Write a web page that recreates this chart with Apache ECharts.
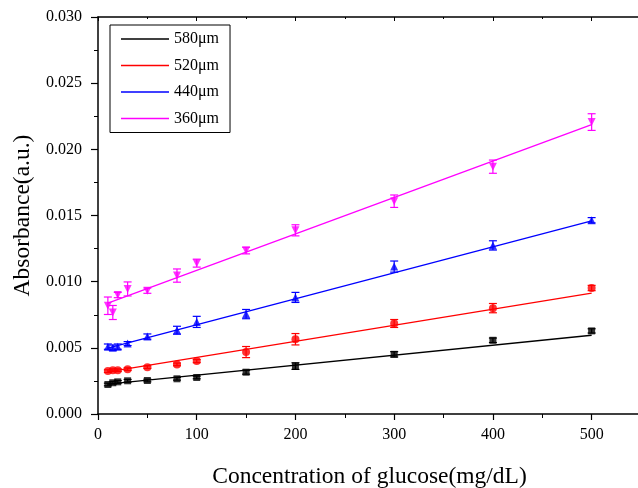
<!DOCTYPE html>
<html><head><meta charset="utf-8">
<script src="https://cdn.jsdelivr.net/npm/echarts@6/dist/echarts.min.js"></script>
<style>html,body{margin:0;padding:0;background:#fff}#c{width:638px;height:488px}</style>
</head><body><div id="c"></div>
<script>
var conc = [10, 15, 20, 30, 50, 80, 100, 150, 200, 300, 400, 500];
var names = ['580\u03bcm', '520\u03bcm', '440\u03bcm', '360\u03bcm'];
var abs580 = [0.00223, 0.00236, 0.00243, 0.00251, 0.00253, 0.00266, 0.00276, 0.00316, 0.00362, 0.00451, 0.00557, 0.00628];
var abs520 = [0.00324, 0.00331, 0.00331, 0.00339, 0.00354, 0.00375, 0.00400, 0.00468, 0.00565, 0.00684, 0.00800, 0.00952];
var abs440 = [0.00509, 0.00501, 0.00509, 0.00532, 0.00585, 0.00633, 0.00696, 0.00755, 0.00881, 0.01114, 0.01274, 0.01464];
var abs360 = [0.00818, 0.00767, 0.00899, 0.00945, 0.00932, 0.01046, 0.01140, 0.01235, 0.01388, 0.01608, 0.01869, 0.02206];
var err580 = [0.0001, 0.0001, 0.0001, 0.0001, 0.0001, 0.0001, 0.0001, 0.00015, 0.00025, 0.0002, 0.00017, 0.00016];
var err520 = [0.0001, 0.0001, 0.0001, 0.0001, 0.0001, 0.0001, 0.00012, 0.00042, 0.00043, 0.0003, 0.00035, 0.0002];
var err440 = [0.0002, 0.0002, 0.0002, 0.00015, 0.0002, 0.0003, 0.00042, 0.00035, 0.00038, 0.00042, 0.00035, 0.0002];
var err360 = [0.00066, 0.00053, 0.0002, 0.00053, 0.0002, 0.0005, 0.0003, 0.00025, 0.00042, 0.00047, 0.0005, 0.00063];
var fitX = [10, 500];
var fit580 = [0.00225, 0.00595];
var fit520 = [0.00318, 0.00914];
var fit440 = [0.00497, 0.01459];
var fit360 = [0.00838, 0.02186];
var xTicks = [0, 100, 200, 300, 400, 500];
var yTicks = [0, 0.005, 0.010, 0.015, 0.020, 0.025, 0.030];

var colors = ['#000000', '#ff0000', '#0000ff', '#ff00ff'];
var symbols = ['rect', 'circle', 'triangle', 'path://M0,0 L10,0 L5,10 Z'];
var vals = [abs580, abs520, abs440, abs360];
var errs = [err580, err520, err440, err360];
var fits = [fit580, fit520, fit440, fit360];
var serif = 'Liberation Serif';

function pairs(xs, ys) { return xs.map(function (x, i) { return [x, ys[i]]; }); }

var series = [];
for (var k = 0; k < 4; k++) {
  (function (k) {
    series.push({
      name: names[k], type: 'line', data: pairs(fitX, fits[k]), showSymbol: false,
      lineStyle: { color: colors[k], width: 1.3 }, itemStyle: { color: colors[k] },
      z: 2, silent: true
    });
    series.push({
      name: names[k] + '_err', type: 'custom',
      data: conc.map(function (x, i) { return [x, vals[k][i] - errs[k][i], vals[k][i] + errs[k][i]]; }),
      renderItem: function (params, api) {
        var x = api.value(0), lo = api.value(1), hi = api.value(2);
        var p1 = api.coord([x, hi]), p2 = api.coord([x, lo]);
        var w = 4, st = { stroke: colors[k], lineWidth: 1.2 };
        return { type: 'group', children: [
          { type: 'line', shape: { x1: p1[0], y1: p1[1], x2: p2[0], y2: p2[1] }, style: st },
          { type: 'line', shape: { x1: p1[0] - w, y1: p1[1], x2: p1[0] + w, y2: p1[1] }, style: st },
          { type: 'line', shape: { x1: p2[0] - w, y1: p2[1], x2: p2[0] + w, y2: p2[1] }, style: st }
        ] };
      },
      encode: { x: 0, y: [1, 2] }, z: 3, silent: true
    });
    series.push({
      name: names[k] + '_pts', type: 'scatter', data: pairs(conc, vals[k]),
      symbol: symbols[k], symbolSize: k === 0 ? 7 : 8,
      itemStyle: { color: colors[k] }, z: 4, silent: true
    });
  })(k);
}

var chart = echarts.init(document.getElementById('c'), null, { renderer: 'canvas' });
chart.setOption({
  animation: false,
  backgroundColor: '#fff',
  grid: { left: 98, right: -3, top: 17, bottom: 74, outerBoundsMode: 'none', containLabel: false },
  legend: {
    data: names, left: 110, top: 25, orient: 'vertical',
    icon: 'rect', itemWidth: 48, itemHeight: 1.5, itemGap: 10.5,
    borderColor: '#000', borderWidth: 1, padding: [6, 11, 6, 11],
    textStyle: { fontFamily: serif, fontSize: 16, color: '#000' }
  },
  xAxis: [{
    type: 'value', min: 0, max: 550, interval: 100,
    name: 'Concentration of glucose(mg/dL)', nameLocation: 'middle', nameGap: 51,
    nameTextStyle: { fontFamily: serif, fontSize: 23.5, color: '#000' },
    axisLine: { lineStyle: { color: '#000', width: 1.5 } },
    axisTick: { inside: false, length: 6, lineStyle: { color: '#000', width: 1.2 } },
    minorTick: { show: true, splitNumber: 2, length: 4, lineStyle: { color: '#000', width: 1 } },
    axisLabel: { fontFamily: serif, fontSize: 16, color: '#000', margin: 13, showMaxLabel: false,
      formatter: function (v) { return xTicks.indexOf(v) >= 0 ? String(v) : ''; } },
    splitLine: { show: false }
  }, {
    type: 'value', position: 'top', min: 0, max: 550, interval: 100,
    axisLine: { onZero: false, lineStyle: { color: '#000', width: 1.5 } },
    axisTick: { inside: true, length: 4, lineStyle: { color: '#000' } },
    minorTick: { show: true, splitNumber: 2, length: 2, lineStyle: { color: '#000' } },
    axisLabel: { show: false }, splitLine: { show: false }
  }],
  yAxis: [{
    type: 'value', min: 0, max: 0.030, interval: 0.005,
    name: 'Absorbance(a.u.)', nameLocation: 'middle', nameGap: 63,
    nameTextStyle: { fontFamily: serif, fontSize: 23.5, color: '#000' },
    axisLine: { show: true, lineStyle: { color: '#000', width: 1.5 } },
    axisTick: { show: true, inside: false, length: 7, lineStyle: { color: '#000', width: 1.2 } },
    minorTick: { show: true, splitNumber: 2, length: 4, lineStyle: { color: '#000', width: 1 } },
    axisLabel: { fontFamily: serif, fontSize: 16, color: '#000', margin: 16,
      formatter: function (v) { return v.toFixed(3); } },
    splitLine: { show: false }
  }],
  series: series
});
</script></body></html>
